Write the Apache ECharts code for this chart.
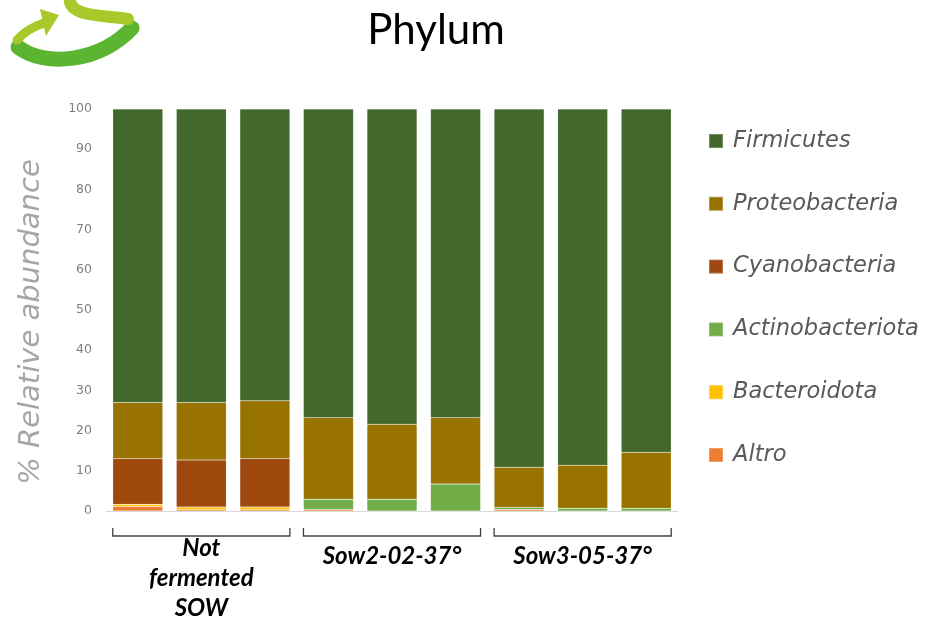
<!DOCTYPE html>
<html>
<head>
<meta charset="utf-8">
<script src="https://cdn.jsdelivr.net/npm/echarts@6/dist/echarts.min.js"></script>
<style>
  html, body { margin: 0; padding: 0; background: #ffffff; }
  #chart { width: 930px; height: 622px; }
</style>
</head>
<body>
<div id="chart"></div>
<script>
// Nine samples, three replicates per condition
const samples = ['NF-1', 'NF-2', 'NF-3', 'S2-1', 'S2-2', 'S2-3', 'S3-1', 'S3-2', 'S3-3'];

// Relative abundance (%) per phylum, stacked from the bottom up
const altro          = [1.1, 0.3, 0.3, 0.4, 0, 0, 0.4, 0, 0];
const bacteroidota   = [0.55, 0.7, 0.7, 0, 0, 0, 0, 0, 0];
const actinobacteria = [0, 0, 0, 2.5, 2.9, 6.7, 0.5, 0.7, 0.7];
const cyanobacteria  = [11.35, 11.7, 12.0, 0, 0, 0, 0, 0, 0];
const proteobacteria = [14.0, 14.3, 14.4, 20.3, 18.7, 16.5, 10.0, 10.7, 13.9];
const firmicutes     = [73.0, 73.0, 72.6, 76.8, 78.4, 76.8, 89.1, 88.6, 85.4];

const yTicks = [0, 10, 20, 30, 40, 50, 60, 70, 80, 90, 100];

// Sample groups shown under the bars
const groupLabels = ['Not\nfermented\nSOW', 'Sow2-02-37°', 'Sow3-05-37°'];
const groupFirst  = [0, 3, 6];
const groupLast   = [2, 5, 8];

const FONT = 'Lato, "Open Sans", "Liberation Sans", sans-serif';
const WIDE = '"DejaVu Sans", "Open Sans", sans-serif';

const seriesDefs = [
  { name: 'Altro',             data: altro,          color: '#ed7d31' },
  { name: 'Bacteroidota',      data: bacteroidota,   color: '#ffc000' },
  { name: 'Actinobacteriota',  data: actinobacteria, color: '#70ad47' },
  { name: 'Cyanobacteria',     data: cyanobacteria,  color: '#9e480e' },
  { name: 'Proteobacteria',    data: proteobacteria, color: '#997300' },
  { name: 'Firmicutes',        data: firmicutes,     color: '#43682b' }
];

const BAR_W = 50;

const chart = echarts.init(document.getElementById('chart'), null, { renderer: 'canvas' });

chart.setOption({
  animation: false,
  backgroundColor: '#ffffff',
  title: {
    text: 'Phylum',
    left: 431,
    top: 4,
    textAlign: 'center',
    textStyle: { fontFamily: FONT, fontSize: 42, fontWeight: 'normal', color: '#000000' }
  },
  legend: {
    orient: 'vertical',
    left: 708,
    top: 129,
    padding: 0,
    itemWidth: 14,
    itemHeight: 14,
    itemGap: 38.8,
    icon: 'rect',
    data: ['Firmicutes', 'Proteobacteria', 'Cyanobacteria', 'Actinobacteriota', 'Bacteroidota', 'Altro'],
    textStyle: {
      fontFamily: WIDE, fontSize: 22.5, fontStyle: 'italic', color: '#595959',
      lineHeight: 24, padding: [0, 0, 0, 5]
    }
  },
  grid: { left: 106, right: 252, top: 109, bottom: 111 },
  xAxis: {
    type: 'category',
    data: samples,
    axisLine: { show: true, lineStyle: { color: '#d9d9d9', width: 1 } },
    axisTick: { show: false },
    axisLabel: { show: false }
  },
  yAxis: {
    type: 'value',
    min: yTicks[0],
    max: yTicks[yTicks.length - 1],
    interval: 10,
    axisLine: { show: false },
    axisTick: { show: false },
    splitLine: { show: false },
    axisLabel: { fontFamily: WIDE, fontSize: 12.5, color: '#7f7f7f', margin: 14 }
  },
  series: seriesDefs.map(s => ({
    name: s.name,
    type: 'bar',
    stack: 'total',
    barWidth: BAR_W,
    data: s.data,
    itemStyle: { color: s.color, borderColor: 'rgba(255,255,255,0.25)', borderWidth: 0.5 },
    emphasis: { disabled: true }
  }))
});

const graphics = [];

// Vertical axis title
graphics.push({
  type: 'text',
  x: 31,
  y: 322,
  rotation: Math.PI / 2,
  style: {
    text: '% Relative abundance',
    align: 'center',
    verticalAlign: 'middle',
    fontFamily: WIDE,
    fontSize: 29,
    fontStyle: 'italic',
    fill: '#a6a6a6'
  }
});

// Brackets and group captions under the bars, placed from the category axis
const baseY = chart.convertToPixel({ yAxisIndex: 0 }, 0);
groupLabels.forEach((label, i) => {
  const x0 = chart.convertToPixel({ xAxisIndex: 0 }, groupFirst[i]) - BAR_W / 2;
  const x1 = chart.convertToPixel({ xAxisIndex: 0 }, groupLast[i]) + BAR_W / 2;
  const yTop = baseY + 17, yBot = baseY + 25;
  graphics.push({
    type: 'polyline',
    shape: { points: [[x0, yTop], [x0, yBot], [x1, yBot], [x1, yTop]] },
    style: { stroke: '#404040', lineWidth: 1.3, fill: null }
  });
  const multiLine = label.indexOf('\n') >= 0;
  graphics.push({
    type: 'text',
    x: (x0 + x1) / 2,
    y: multiLine ? baseY + 22 : baseY + 45,
    style: {
      text: label,
      align: 'center',
      verticalAlign: multiLine ? 'top' : 'middle',
      fontFamily: FONT,
      fontSize: 24,
      fontWeight: 'bold',
      fontStyle: 'italic',
      lineHeight: 30,
      fill: '#000000'
    }
  });
});

// Logo in the top-left corner: green ring band with a lime arrow
graphics.push(
  { type: 'bezierCurve',
    shape: { x1: 18, y1: 47, cpx1: 45, cpy1: 68, cpx2: 100, cpy2: 62, x2: 132, y2: 28 },
    style: { stroke: '#5cb531', lineWidth: 15, fill: null, lineCap: 'round' } },
  { type: 'bezierCurve',
    shape: { x1: 70, y1: -4, cpx1: 66, cpy1: 18, cpx2: 105, cpy2: 15, x2: 128, y2: 19 },
    style: { stroke: '#a9c92a', lineWidth: 12, fill: null, lineCap: 'round' } },
  { type: 'bezierCurve',
    shape: { x1: 17, y1: 40, cpx1: 24, cpy1: 32, cpx2: 32, cpy2: 27, x2: 44, y2: 23 },
    style: { stroke: '#a9c92a', lineWidth: 9, fill: null, lineCap: 'round' } },
  { type: 'polygon',
    shape: { points: [[40, 9], [59, 15], [46, 36]] },
    style: { fill: '#a9c92a' } }
);

chart.setOption({ graphic: graphics });
</script>
</body>
</html>
